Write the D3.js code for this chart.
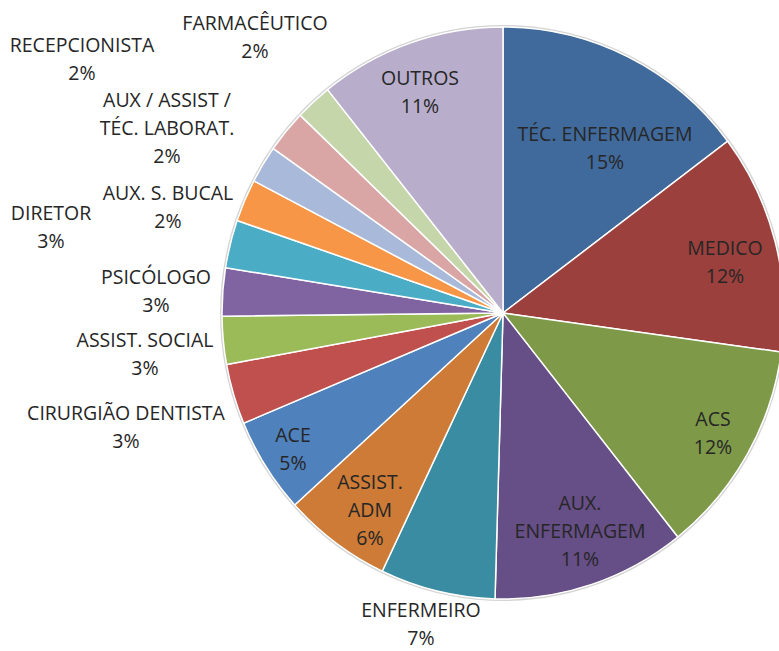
<!DOCTYPE html>
<html>
<head>
<meta charset="utf-8">
<script src="https://cdn.jsdelivr.net/npm/d3@7"></script>
<style>
  body { margin: 0; background: #fff; }
  text { font-family: "Open Sans", sans-serif; fill: #262626; }
</style>
</head>
<body>
<div id="chart"></div>
<script>
// categories, clockwise from 12 o'clock
const categories = [
  ["TÉC. ENFERMAGEM"],
  ["MEDICO"],
  ["ACS"],
  ["AUX.", "ENFERMAGEM"],
  ["ENFERMEIRO"],
  ["ASSIST.", "ADM"],
  ["ACE"],
  ["CIRURGIÃO DENTISTA"],
  ["ASSIST. SOCIAL"],
  ["PSICÓLOGO"],
  ["DIRETOR"],
  ["AUX. S. BUCAL"],
  ["AUX / ASSIST /", "TÉC. LABORAT."],
  ["RECEPCIONISTA"],
  ["FARMACÊUTICO"],
  ["OUTROS"]
];
// share of each category (percent)
const values = [14.7, 12.4, 12.1, 11.1, 6.6, 6.2, 5.4, 3.4, 2.7, 2.7, 2.7, 2.4, 2.1, 2.4, 2.1, 10.7];
const colors = [
  "#416a9c", "#9c403d", "#7e9a49", "#664e86", "#3a8ca2", "#cd7b36",
  "#4f81bd", "#c0504d", "#9bbb59", "#8064a2", "#4bacc6", "#f79646",
  "#a9b9d9", "#d9a6a5", "#c6d6ab", "#b8aecb"
];
// label anchor (first line centre) relative to pie centre, as placed in the original
const labelOffsets = [
  [102, -179], [222, -65], [210, 106], [77, 190], [-82, 297], [-133, 169],
  [-210, 122], [-377, 100], [-358, 27], [-347, -36], [-452, -100], [-335, -120],
  [-336, -213], [-421, -268], [-248, -290], [-83, -235]
];

const width = 779, height = 651;
const cx = 503, cy = 313, radius = 286;
const squeeze = 281 / 286; // the original pie is a touch narrower than tall
const lineHeight = 28;

const svg = d3.select("#chart")
  .append("svg")
  .attr("width", width)
  .attr("height", height);

const g = svg.append("g").attr("transform", `translate(${cx},${cy})`);
const pieG = g.append("g").attr("transform", `scale(${squeeze},1)`);

const data = categories.map((c, i) => ({ lines: c, value: values[i], color: colors[i], off: labelOffsets[i] }));
const total = d3.sum(values);

const pie = d3.pie().sort(null).value(d => d.value);
const arc = d3.arc().innerRadius(0).outerRadius(radius);

// faint outline round the pie
pieG.append("circle")
  .attr("r", radius + 1)
  .attr("fill", "none")
  .attr("stroke", "#d4d4d4")
  .attr("stroke-width", 2);

pieG.selectAll("path.slice")
  .data(pie(data))
  .enter()
  .append("path")
  .attr("class", "slice")
  .attr("d", arc)
  .attr("fill", d => d.data.color)
  .attr("stroke", "#fff")
  .attr("stroke-width", 1.5);

const labels = g.selectAll("text.label")
  .data(pie(data))
  .enter()
  .append("text")
  .attr("class", "label")
  .attr("text-anchor", "middle")
  .style("font-size", "19.5px");

labels.each(function(d) {
  const t = d3.select(this);
  const [dx, dy] = d.data.off;
  const lines = d.data.lines.concat([Math.round(d.data.value / total * 100) + "%"]);
  lines.forEach((ln, k) => {
    t.append("tspan")
      .attr("x", dx)
      .attr("y", dy + k * lineHeight + 7)
      .text(ln);
  });
});
</script>
</body>
</html>
